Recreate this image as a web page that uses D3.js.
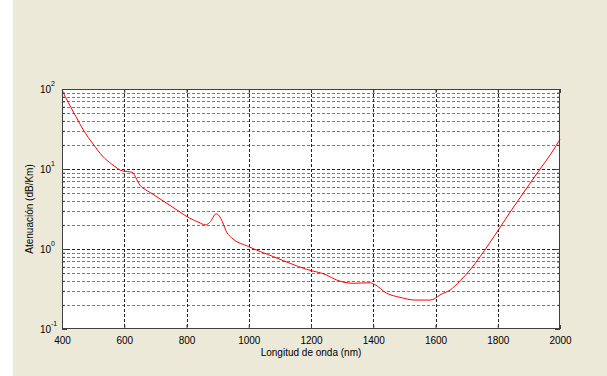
<!DOCTYPE html>
<html>
<head>
<meta charset="utf-8">
<script src="https://cdn.jsdelivr.net/npm/d3@7"></script>
<style>
  html, body { margin: 0; padding: 0; background: #ECE9D8; }
  svg { display: block; }
  text { font-family: "Liberation Sans", Arial, sans-serif; fill: #000; }
</style>
</head>
<body>
<svg id="chart" width="607" height="376"></svg>
<script>
// Fibre attenuation spectrum
const wavelengths = [400, 420, 445, 468, 500, 530, 560, 597, 610, 625, 650, 683, 720, 760, 811, 840, 860,
  875, 895, 905, 915, 930, 945, 1000, 1080, 1186, 1250, 1282, 1336, 1390, 1405, 1443, 1486, 1534,
  1582, 1598, 1614, 1647, 1679, 1711, 1743, 1802, 1845, 1882, 1936, 1970, 2000];
const attenuation = [97, 68, 45, 31, 20.5, 14.5, 11.5, 9.4, 9.3, 9.1, 6.3, 5.1, 4.1, 3.25, 2.42, 2.15, 2.0,
  2.15, 2.75, 2.6, 2.2, 1.6, 1.38, 1.07, 0.80, 0.557, 0.473, 0.41, 0.373, 0.378, 0.36, 0.28, 0.249, 0.23,
  0.23, 0.24, 0.266, 0.307, 0.40, 0.547, 0.80, 1.73, 3.1, 5.0, 10.0, 15.3, 23.5];

const xTicks = [400, 600, 800, 1000, 1200, 1400, 1600, 1800, 2000];
const yDecades = [0.1, 1, 10, 100];
const yExponents = ["-1", "0", "1", "2"];

const xLabel = "Longitud de onda (nm)";
const yLabel = "Atenuación (dB/Km)";

const svg = d3.select("#chart");
const W = 607, H = 376;
const box = { left: 62, right: 560, top: 89, bottom: 329 };

// figure background with a thin white margin on the left
svg.append("rect").attr("x", 0).attr("y", 0).attr("width", W).attr("height", H).attr("fill", "#ECE9D8");
svg.append("rect").attr("x", 0).attr("y", 0).attr("width", 13).attr("height", H).attr("fill", "#ffffff");

const x = d3.scaleLinear().domain([400, 2000]).range([box.left, box.right]);
const y = d3.scaleLog().domain([0.1, 100]).range([box.bottom, box.top]);

// minor log positions 2..9 × 10^k
const yMinor = [];
[0.1, 1, 10].forEach(d => { for (let m = 2; m <= 9; m++) yMinor.push(+(d * m).toPrecision(3)); });

// axes area
svg.append("rect")
  .attr("x", box.left).attr("y", box.top)
  .attr("width", box.right - box.left).attr("height", box.bottom - box.top)
  .attr("fill", "#ffffff");

const grid = svg.append("g");
// horizontal grid: minor lines
grid.selectAll("line.hmin").data(yMinor).join("line")
  .attr("x1", box.left).attr("x2", box.right)
  .attr("y1", d => Math.round(y(d)) + 0.5).attr("y2", d => Math.round(y(d)) + 0.5)
  .attr("stroke", "#7a7a7a").attr("stroke-width", 1).attr("stroke-dasharray", "3,2");
// horizontal grid: decades
grid.selectAll("line.hmaj").data(yDecades.slice(1, 3)).join("line")
  .attr("x1", box.left).attr("x2", box.right)
  .attr("y1", d => Math.round(y(d)) + 0.5).attr("y2", d => Math.round(y(d)) + 0.5)
  .attr("stroke", "#222").attr("stroke-width", 1).attr("stroke-dasharray", "3,2");
// vertical grid
grid.selectAll("line.v").data(xTicks.slice(1, -1)).join("line")
  .attr("x1", d => Math.round(x(d)) + 0.5).attr("x2", d => Math.round(x(d)) + 0.5)
  .attr("y1", box.top).attr("y2", box.bottom)
  .attr("stroke", "#222").attr("stroke-width", 1).attr("stroke-dasharray", "3,2");

// curve
const line = d3.line()
  .x((d, i) => x(wavelengths[i]))
  .y((d, i) => y(attenuation[i]))
  .curve(d3.curveMonotoneX);
svg.append("path")
  .attr("d", line(attenuation))
  .attr("fill", "none")
  .attr("stroke", "#ff0000")
  .attr("stroke-width", 1);

// axes (ticks pointing inward)
const axisColor = "#404040";
const gx = svg.append("g").attr("transform", `translate(0,${box.bottom})`)
  .call(d3.axisBottom(x).tickValues(xTicks).tickFormat(d3.format("d")).tickSizeInner(-4).tickSizeOuter(0).tickPadding(8));
const gxTop = svg.append("g").attr("transform", `translate(0,${box.top})`)
  .call(d3.axisTop(x).tickValues(xTicks).tickFormat("").tickSizeInner(-4).tickSizeOuter(0));
const gy = svg.append("g").attr("transform", `translate(${box.left},0)`)
  .call(d3.axisLeft(y).tickValues(yDecades).tickFormat("").tickSizeInner(-5).tickSizeOuter(0));
const gyMinor = svg.append("g").attr("transform", `translate(${box.left},0)`)
  .call(d3.axisLeft(y).tickValues(yMinor).tickFormat("").tickSizeInner(-3).tickSizeOuter(0));
const gyR = svg.append("g").attr("transform", `translate(${box.right},0)`)
  .call(d3.axisRight(y).tickValues(yDecades).tickFormat("").tickSizeInner(-5).tickSizeOuter(0));
const gyRMinor = svg.append("g").attr("transform", `translate(${box.right},0)`)
  .call(d3.axisRight(y).tickValues(yMinor).tickFormat("").tickSizeInner(-3).tickSizeOuter(0));

[gx, gxTop, gy, gyMinor, gyR, gyRMinor].forEach(g => {
  g.select(".domain").remove();
  g.selectAll(".tick line").attr("stroke", axisColor);
});
gx.selectAll(".tick text")
  .style("font-family", '"Liberation Sans", Arial, sans-serif')
  .style("font-size", "10px").attr("fill", "#000");

// y tick labels: 10 with superscript exponent
svg.append("g").selectAll("text").data(yDecades).join("text")
  .attr("x", box.left - 11)
  .attr("y", d => y(d) + 4)
  .attr("text-anchor", "end")
  .style("font-size", "10px")
  .text("10");
svg.append("g").selectAll("text").data(yDecades).join("text")
  .attr("x", box.left - 11)
  .attr("y", d => y(d) - 3)
  .attr("text-anchor", "start")
  .style("font-size", "7px")
  .text((d, i) => yExponents[i]);

// box
svg.append("rect")
  .attr("x", box.left + 0.5).attr("y", box.top + 0.5)
  .attr("width", box.right - box.left - 1).attr("height", box.bottom - box.top - 1)
  .attr("fill", "none").attr("stroke", axisColor).attr("stroke-width", 1);

// axis titles
svg.append("text")
  .attr("x", (box.left + box.right) / 2).attr("y", 356)
  .attr("text-anchor", "middle").style("font-size", "10px")
  .text(xLabel);
svg.append("text")
  .attr("transform", `translate(33,${(box.top + box.bottom) / 2}) rotate(-90)`)
  .attr("text-anchor", "middle").style("font-size", "10px")
  .text(yLabel);
</script>
</body>
</html>
